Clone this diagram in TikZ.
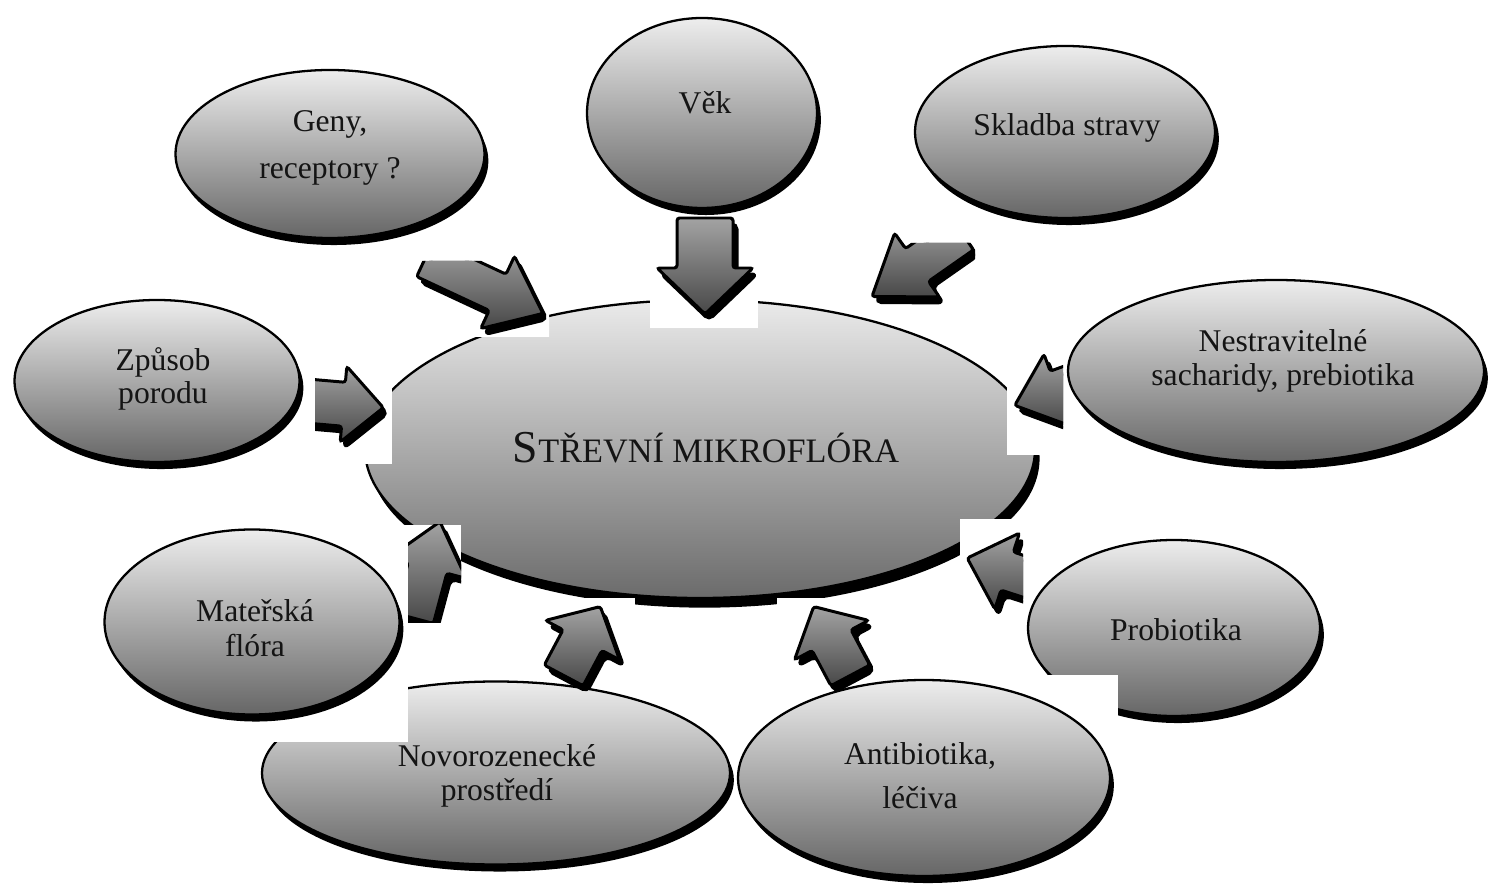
\documentclass[tikz,border=0pt]{standalone}
\usepackage{fontspec}
\setmainfont{Liberation Serif}
\usetikzlibrary{shapes.geometric,shadows}

\tikzset{
  blob/.style={ellipse, draw=black, line width=1.3pt, top color=black!7, middle color=black!24, bottom color=black!60,
    inner sep=0pt, general shadow={fill=black, shadow xshift=2.2pt, shadow yshift=-4pt}},
  bigblob/.style={ellipse, draw=black, line width=1.3pt, top color=black!8, middle color=black!26, bottom color=black!58,
    inner sep=0pt, general shadow={fill=black, shadow xshift=2.6pt, shadow yshift=-5.5pt}},
  sz/.style 2 args={minimum width={#1*0.02cm}, minimum height={#2*0.02cm}},
  lbl/.style={align=center, text=black!92, font=\fontsize{18}{#1}\selectfont},
  lbl/.default=20,
  arrbody/.style={draw=black, line width=1.7pt, rounded corners=1.5pt, top color=black!36, bottom color=black!72},
  arrshadow/.style={fill=black, draw=black, line width=1.7pt, rounded corners=3pt},
  whitebox/.style={fill=white},
}

% cx, cy, angle, length, shaft half width, head half width, head length
\newcommand\mkarrow[7]{%
  \begin{scope}[shift={({#1+4},{#2+6})}, rotate=#3]
    \path[arrshadow] ({-#4/2},{-#5}) -- ({#4/2-#7},{-#5}) -- ({#4/2-#7},{-#6}) -- ({#4/2},0)
      -- ({#4/2-#7},{#6}) -- ({#4/2-#7},{#5}) -- ({-#4/2},{#5}) -- cycle;
  \end{scope}
  \begin{scope}[shift={(#1,#2)}, rotate=#3]
    \path[arrbody] ({-#4/2},{-#5}) -- ({#4/2-#7},{-#5}) -- ({#4/2-#7},{-#6}) -- ({#4/2},0)
      -- ({#4/2-#7},{#6}) -- ({#4/2-#7},{#5}) -- ({-#4/2},{#5}) -- cycle;
  \end{scope}}

\begin{document}
\begin{tikzpicture}[x=0.02cm, y=-0.02cm]
\useasboundingbox (0,0) rectangle (1493,884);

% outer ellipses
\node[blob, sz={309}{168}] (geny) at (330,154) {};
\node[blob, sz={230}{190}] (vek) at (702,113) {};
\node[blob, sz={300}{172}] (strava) at (1065,132) {};
\node[blob, sz={416}{182}] (nestr) at (1276,371) {};
\node[blob, sz={285}{162}] (porod) at (157,381) {};
% central ellipse
\node[bigblob, sz={670}{298}] (mikro) at (700,449) {};
\node[blob, sz={468}{183}] (novo) at (496,773) {};
\node[blob, sz={292}{176}] (probio) at (1174,628) {};
\fill[whitebox] (100,525) rectangle (408,742);
\node[blob, sz={295}{185}] (matka) at (252,622) {};
\fill[whitebox] (737,675) rectangle (1118,884);
\node[blob, sz={372}{196}] (anti) at (924,778) {};

% labels
\node[lbl=27.2] (genyT) at (330,148) {Geny,\\receptory ?};
\node[lbl] (vekT) at (705,103) {Věk};
\node[lbl] (stravaT) at (1067,128) {Skladba stravy};
\node[lbl=19.3] (nestrT) at (1283,361) {Nestravitelné\\sacharidy, prebiotika};
\node[lbl=18.8] (porodT) at (163,379) {Způsob\\porodu};
\node[lbl=20] (matkaT) at (255,628) {Mateřská\\flóra};
\node[lbl=19.3] (novoT) at (497,776) {Novorozenecké\\prostředí};
\node[lbl=25] (antiT) at (920,776) {Antibiotika,\\léčiva};
\node[lbl] (probioT) at (1176,630) {Probiotika};
\node[text=black!92, font=\fontsize{26}{28}\selectfont] (mikroT) at (706,448)
  {S{\fontsize{19.5}{20}\selectfont TŘEVNÍ MIKROFLÓRA}};

% block arrows with their white boxes
% Vek
\fill[whitebox] (650,263) rectangle (758,328);
\mkarrow{705}{266}{-90}{96}{28}{48}{46}
% Geny
\begin{scope}
  \fill[whitebox] (415,261) -- (495,261) -- (495,245) -- (549,245) -- (549,337) -- (415,337) -- cycle;
  \clip (415,261) -- (495,261) -- (495,245) -- (549,245) -- (549,337) -- (415,337) -- cycle;
  \mkarrow{484}{286}{-25}{130}{20}{40}{50}
\end{scope}
% Skladba stravy
\begin{scope}
  \fill[whitebox] (860,225) -- (908,225) -- (908,243) -- (975,243) -- (975,315) -- (860,315) -- cycle;
  \clip (860,225) -- (908,225) -- (908,243) -- (975,243) -- (975,315) -- (860,315) -- cycle;
  \mkarrow{917}{265}{-145}{110}{20}{39}{55}
\end{scope}
% Nestravitelne
\begin{scope}
  \fill[whitebox] (1007,355) rectangle (1063,455);
  \clip (1007,355) rectangle (1063,455);
  \mkarrow{1057}{390}{200}{90}{20}{38}{45}
\end{scope}
% Zpusob porodu
\begin{scope}
  \fill[whitebox] (315,360) rectangle (392,464);
  \clip (315,360) rectangle (392,464);
  \mkarrow{341}{404}{-5}{85}{22}{38}{40}
\end{scope}
% Materska flora
\begin{scope}
  \fill[whitebox] (408,525) rectangle (461,622);
  \clip (408,525) rectangle (461,622);
  \mkarrow{427}{570}{75}{100}{20}{40}{48}
\end{scope}
% Novorozenecke
\fill[whitebox] (535,598) rectangle (635,680);
\mkarrow{582}{641}{62}{78}{22}{42}{38}
% Antibiotika
\fill[whitebox] (777,598) rectangle (880,680);
\mkarrow{832}{641}{118}{78}{22}{42}{38}
% Probiotika
\begin{scope}
  \fill[whitebox] (960,519) rectangle (1023,615);
  \clip (960,519) rectangle (1023,615);
  \mkarrow{1010}{572}{162}{90}{20}{40}{42}
\end{scope}
\end{tikzpicture}
\end{document}
